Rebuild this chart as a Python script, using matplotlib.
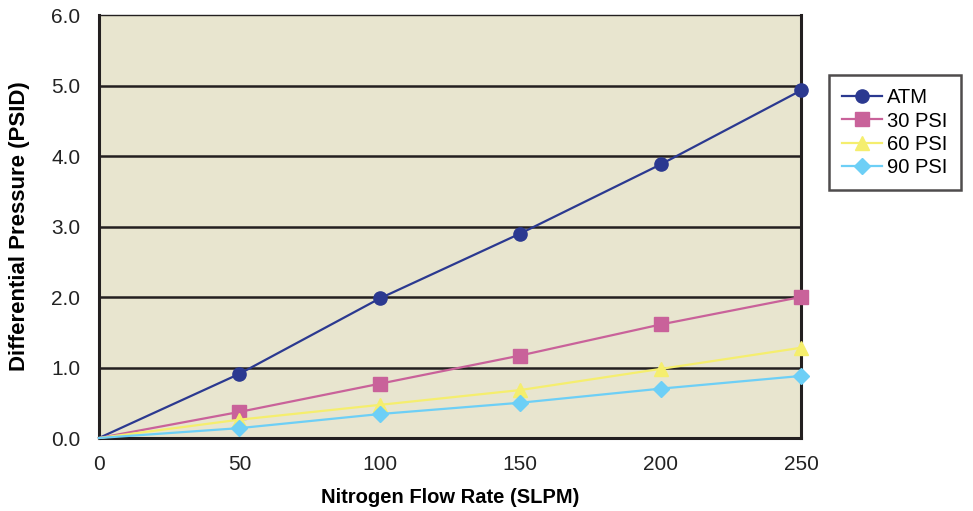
import matplotlib
matplotlib.use("Agg")
import matplotlib.pyplot as plt

plt.rcParams['font.family'] = ['Liberation Sans', 'DejaVu Sans']

flow = [0, 50, 100, 150, 200, 250]
atm = [0.0, 0.91, 1.98, 2.90, 3.88, 4.93]
psi30 = [0.0, 0.37, 0.77, 1.17, 1.61, 2.00]
psi60 = [0.0, 0.26, 0.47, 0.68, 0.98, 1.28]
psi90 = [0.0, 0.14, 0.34, 0.50, 0.70, 0.88]

series = [
    ("ATM", atm, '#2B3990', 'o', 9.5),
    ("30 PSI", psi30, '#C9629A', 's', 9.5),
    ("60 PSI", psi60, '#F5EE6E', '^', 10.5),
    ("90 PSI", psi90, '#6DCFF6', 'D', 8),
]

fig = plt.figure(figsize=(9.73, 5.11), dpi=100)
ax = fig.add_axes([99/973, 73/511, 702/973, 423/511])
ax.set_facecolor('#E8E5CF')

for name, vals, col, mk, ms in series:
    # no marker at the origin, as in the original
    ax.plot(flow, vals, color=col, marker=mk, markersize=ms, linewidth=1.6,
            markevery=list(range(1, len(flow))),
            label=name, clip_on=False, zorder=3)

ax.set_xlim(0, 250)
ax.set_ylim(0, 6)
ax.set_xticks(flow)
ax.set_yticks([0, 1, 2, 3, 4, 5, 6])
ax.set_yticklabels([f"{v:.1f}" for v in range(7)])
ax.tick_params(length=0, labelsize=15, colors='#222222')
ax.tick_params(axis='y', pad=13.5)
ax.tick_params(axis='x', pad=12)

for y in range(1, 6):
    ax.axhline(y, color='#231F20', linewidth=1.8, zorder=1)

for side in ['left', 'right', 'bottom']:
    ax.spines[side].set_linewidth(2.2)
    ax.spines[side].set_color('#231F20')
ax.spines['top'].set_linewidth(1.0)
ax.spines['top'].set_color('#231F20')

ax.set_xlabel('Nitrogen Flow Rate (SLPM)', fontsize=14.5, fontweight='bold', va='center')
ax.set_ylabel('Differential Pressure (PSID)', fontsize=16, fontweight='bold', va='center')
ax.xaxis.set_label_coords(0.5, (438 - 497) / 423)
ax.yaxis.set_label_coords((20 - 99) / 702, 0.5)

leg = fig.legend(loc='upper left', bbox_to_anchor=(829/973, 1 - 75/511), fontsize=14.5,
                 frameon=True, fancybox=False, edgecolor='#231F20', handlelength=2.0,
                 borderpad=0.65, labelspacing=0.22, handletextpad=0.25, borderaxespad=0)
leg.get_frame().set_linewidth(1.8)

fig.savefig('out.png', dpi=100)
